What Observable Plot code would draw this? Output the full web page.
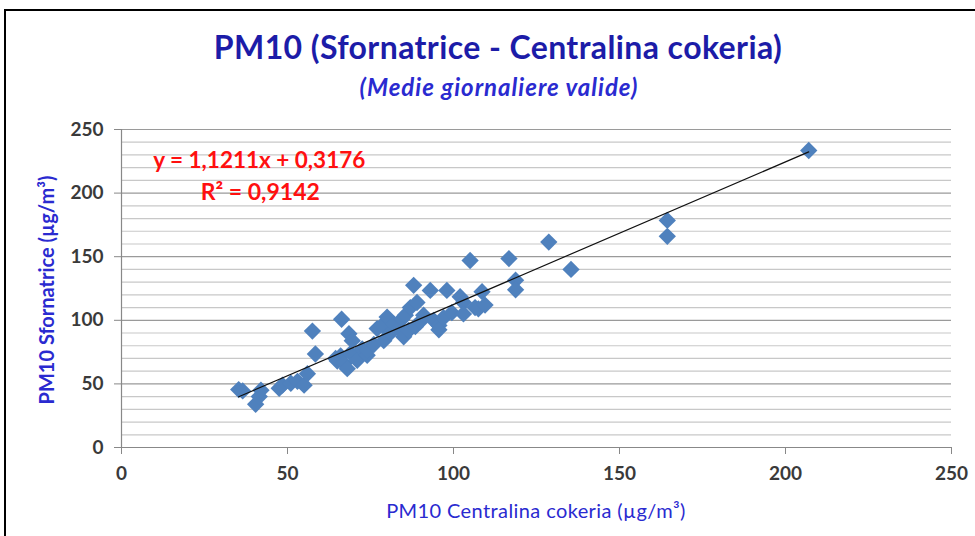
<!DOCTYPE html>
<html>
<head>
<meta charset="utf-8">
<script src="https://cdn.jsdelivr.net/npm/d3@7"></script>
<script src="https://cdn.jsdelivr.net/npm/@observablehq/plot@0.6"></script>
<style>
  html, body { margin: 0; padding: 0; background: #fff; width: 975px; height: 536px; overflow: hidden; }
  #wrap { position: relative; width: 975px; height: 536px; font-family: Lato, "Open Sans", sans-serif; }
  #frame { position: absolute; left: 4px; top: 9px; width: 1000px; height: 600px; border-left: 2px solid #000; border-top: 2px solid #000; }
  .t { position: absolute; white-space: nowrap; transform: translate(-50%, -50%); }
  #title { left: 498px; top: 46px; font-size: 32px; letter-spacing: 0.4px; font-weight: bold; color: #1c1ca8; }
  #subtitle { left: 499px; top: 86px; font-size: 24px; letter-spacing: 1px; font-weight: bold; font-style: italic; color: #2a2ad0; }
  #xlabel { left: 536px; top: 510px; font-size: 20px; letter-spacing: 0.4px; color: #2a2ad0; }
  #ylabel { left: 46px; top: 290px; font-size: 20px; font-weight: bold; color: #2a2ad0; transform: translate(-50%, -50%) rotate(-90deg); }
  #chart { position: absolute; left: 0; top: 0; }
</style>
</head>
<body>
<div id="wrap">
  <div id="frame"></div>
  <div id="chart"></div>
  <div class="t" id="title">PM10 (Sfornatrice - Centralina cokeria)</div>
  <div class="t" id="subtitle">(Medie giornaliere valide)</div>
  <div class="t" id="xlabel">PM10 Centralina cokeria (µg/m³)</div>
  <div class="t" id="ylabel">PM10 Sfornatrice (µg/m³)</div>
</div>
<script>
// PM10 Centralina cokeria (x) vs PM10 Sfornatrice (y), daily means
const centralina = [35.3, 36.5, 40.4, 41.5, 42, 47.5, 48.5, 51, 53, 55, 56, 57.5, 58.4, 64.5, 65, 66, 66.3, 67, 68, 68.5, 69, 69.5, 71, 72.5, 74, 74, 76, 77, 78.5, 79, 80, 81, 82, 83.5, 84.5, 85, 85.5, 86.5, 87, 88, 88.5, 89, 90, 91, 93, 94, 95.6, 95.6, 97, 98, 99.5, 102, 103, 103, 105, 106.5, 107.5, 108.6, 109.5, 116.7, 118.7, 118.7, 128.7, 135.4, 164.4, 164.4, 207];
const sfornatrice = [45.5, 44.5, 34, 40, 45, 46.5, 49, 50.5, 52, 49, 58, 91.5, 73.5, 70, 68, 72, 100.8, 66, 62, 89.5, 74, 84, 68.5, 77.5, 72.5, 76.5, 81, 93.5, 96, 84, 102.5, 90, 97, 93.5, 101, 87, 104, 92, 110, 127.5, 95, 114, 99, 104, 123.5, 100, 96, 92.5, 102, 123.5, 106, 118.5, 114, 105, 147, 110, 109, 122.5, 112, 148.5, 131.5, 124, 161.5, 140, 178.5, 166, 233.5];
const slope = 1.1211, intercept = 0.3176;
const eqLines = ["y = 1,1211x + 0,3176", "R² = 0,9142"];
const xTicks = [0, 50, 100, 150, 200, 250];
const yTicks = [0, 50, 100, 150, 200, 250];
const minorGrid = d3.range(10, 251, 10).filter(v => v % 50 !== 0);

const points = centralina.map((x, i) => ({x, y: sfornatrice[i]}));
const xMin = d3.min(centralina), xMax = d3.max(centralina);
const trend = [xMin, xMax].map(x => ({x, y: slope * x + intercept}));

const chart = Plot.plot({
  width: 975,
  height: 536,
  marginLeft: 121,
  marginRight: 24,
  marginTop: 129,
  marginBottom: 89,
  style: {fontFamily: "Lato, 'Open Sans', sans-serif", background: "transparent", overflow: "visible"},
  x: {domain: [0, 250], axis: null},
  y: {domain: [0, 250], axis: null},
  marks: [
    Plot.ruleY(minorGrid, {stroke: "#c8c8c8", strokeWidth: 1.2}),
    Plot.ruleY(yTicks.filter(v => v > 0), {stroke: "#9a9a9a", strokeWidth: 1.2}),
    Plot.axisY({ticks: yTicks, tickSize: 7, tickPadding: 11, stroke: "#888", fontSize: 19, fontWeight: "bold", fill: "#3a3a3a", label: null}),
    Plot.axisX({ticks: xTicks, tickSize: 7, tickPadding: 12, stroke: "#888", fontSize: 19, fontWeight: "bold", fill: "#3a3a3a", label: null}),
    Plot.ruleX([0], {stroke: "#888", strokeWidth: 1.2}),
    Plot.ruleY([0], {stroke: "#888", strokeWidth: 1.2}),
    Plot.dot(points, {x: "x", y: "y", symbol: "diamond2", r: 7.8, fill: "#4f81bd", stroke: "none"}),
    Plot.line(trend, {x: "x", y: "y", stroke: "#111", strokeWidth: 1.2}),
    Plot.text([eqLines[0]], {x: 41.5, y: 225.6, text: d => d, fill: "#ff1010", fontSize: 22.5, fontWeight: "bold"}),
    Plot.text([eqLines[1]], {x: 41.8, y: 200.5, text: d => d, fill: "#ff1010", fontSize: 23, fontWeight: "bold"})
  ]
});
document.getElementById("chart").appendChild(chart);
</script>
</body>
</html>
